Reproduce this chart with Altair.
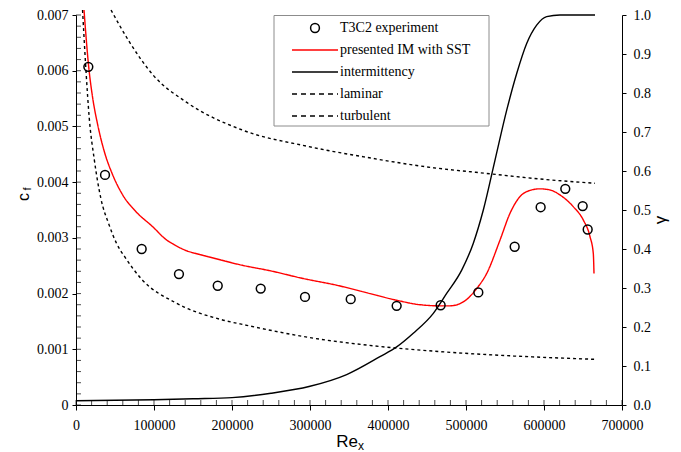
import altair as alt
import pandas as pd

SERIF = "Liberation Serif"
SANS = "Liberation Sans"

# ---------------- data ----------------
series_names = ["T3C2 experiment", "presented IM with SST", "intermittency", "laminar", "turbulent"]
series_colors = ["black", "red", "black", "black", "black"]
series_dashes = [[1, 0], [1, 0], [1, 0], [3, 3], [3, 3]]

exp_re = [15800, 37200, 84200, 132000, 181700, 236800, 293600, 352200, 411100,
          467500, 515800, 562400, 595700, 627300, 649600, 656000]
exp_cf = [0.00607, 0.00413, 0.00280, 0.00235, 0.00214, 0.00209, 0.00194, 0.00190, 0.00178,
          0.00179, 0.00202, 0.00284, 0.00355, 0.00388, 0.00357, 0.00315]

im_re = [10260, 16280, 21410, 27820, 36280, 47050, 59870, 76920, 98330, 115400, 126900,
         139700, 159000, 178200, 212400, 248700, 291400, 334200, 376900, 411100, 441000,
         466600, 479500, 496500, 513700, 526500, 543600, 556400, 569200, 577800, 594800,
         607700, 620500, 637500, 650400, 659000, 663200, 664100]
im_cf = [0.00709, 0.00607, 0.00551, 0.00503, 0.00455, 0.00413, 0.00377, 0.00347, 0.00320,
         0.00297, 0.00287, 0.00278, 0.00270, 0.00263, 0.00251, 0.00241, 0.00227, 0.00215,
         0.00200, 0.00188, 0.00180, 0.00178, 0.00178, 0.00185, 0.00209, 0.00236, 0.00296,
         0.00344, 0.00374, 0.00383, 0.00388, 0.00386, 0.00377, 0.00356, 0.00332, 0.00302,
         0.00272, 0.00236]

lam_re = [8400, 12800, 17000, 23500, 32000, 42000, 52000, 63000, 84000, 127000, 187000,
          219000, 304000, 390000, 475000, 561000, 665000]
lam_cf = [0.00709, 0.00600, 0.00515, 0.00440, 0.00370, 0.00325, 0.00290, 0.00265, 0.00226,
          0.00184, 0.00153, 0.00143, 0.00120, 0.00105, 0.00095, 0.00088, 0.00082]

tur_re = [44900, 68300, 99000, 141000, 212400, 297800, 379000, 441000, 530700, 600000, 665400]
tur_cf = [0.00709, 0.00652, 0.00592, 0.00544, 0.00494, 0.00464, 0.00443, 0.00429, 0.00415,
          0.00405, 0.00398]

int_re = [0, 50000, 100000, 150000, 200000, 250000, 300000, 347000, 389700, 411100, 432400,
          458100, 475200, 494500, 509400, 522200, 537200, 552200, 565000, 577800, 590600,
          603400, 620500, 665400]
int_g = [0.011, 0.012, 0.0135, 0.016, 0.019, 0.030, 0.048, 0.078, 0.124, 0.149, 0.184,
         0.235, 0.286, 0.346, 0.415, 0.500, 0.628, 0.756, 0.850, 0.927, 0.974, 0.996, 1.0, 1.0]

x_ticks = [0, 100000, 200000, 300000, 400000, 500000, 600000, 700000]
x_minor = [i * 20000 for i in range(36)]
cf_ticks = [0, 0.001, 0.002, 0.003, 0.004, 0.005, 0.006, 0.007]
cf_minor = [i * 0.0002 for i in range(36)]
g_ticks = [0, 0.1, 0.2, 0.3, 0.4, 0.5, 0.6, 0.7, 0.8, 0.9, 1.0]

# ---------------- tables ----------------
exp_df = pd.DataFrame({"Re": exp_re, "cf": exp_cf, "series": series_names[0]})
frames = []
for name, xs, ys in [(series_names[3], lam_re, lam_cf), (series_names[4], tur_re, tur_cf),
                     (series_names[1], im_re, im_cf)]:
    frames.append(pd.DataFrame({"Re": xs, "cf": ys, "series": name, "idx": range(len(xs))}))
curves_df = pd.concat(frames, ignore_index=True)
int_df = pd.DataFrame({"Re": int_re, "g": int_g, "series": series_names[2], "idx": range(len(int_re))})
leg_df = pd.DataFrame({"label": series_names})

W, H = 546, 390

color_scale = alt.Scale(domain=series_names, range=series_colors)
dash_scale = alt.Scale(domain=series_names, range=series_dashes)
x_scale = alt.Scale(domain=[0, 700000], nice=False, zero=False)
cf_scale = alt.Scale(domain=[0, 0.007], nice=False, zero=False)
g_scale = alt.Scale(domain=[0, 1], nice=False, zero=False)
leg_scale = alt.Scale(type="point", domain=series_names, range=[13, 101], padding=0)

common_axis = dict(labelFont=SERIF, labelFontSize=14, labelColor="black", domain=True,
                   domainColor="black", ticks=True, tickColor="black", domainWidth=1,
                   tickWidth=1, grid=False, title=None, labelOverlap=False, labelFlush=False)
x_axis = alt.Axis(values=x_ticks, format="d", orient="bottom", tickSize=5, labelPadding=8, **common_axis)
cf_axis = alt.Axis(values=cf_ticks, format="~g", orient="left", tickSize=4, labelPadding=4, **common_axis)
g_axis = alt.Axis(values=g_ticks, format=".1f", orient="right", tickSize=4, labelPadding=7, **common_axis)

X = alt.X("Re:Q", scale=x_scale, axis=x_axis)
Ycf = alt.Y("cf:Q", scale=cf_scale, axis=cf_axis)

lines = alt.Chart(curves_df).mark_line(strokeWidth=1.4, interpolate="monotone").encode(
    x=X, y=Ycf,
    color=alt.Color("series:N", scale=color_scale, legend=None),
    strokeDash=alt.StrokeDash("series:N", scale=dash_scale, legend=None),
    order=alt.Order("idx:Q"),
)
points = alt.Chart(exp_df).mark_point(filled=False, size=78, strokeWidth=1.5, opacity=1).encode(
    x=X, y=Ycf,
    color=alt.Color("series:N", scale=color_scale, legend=None),
)
xminor = alt.Chart(pd.DataFrame({"Re": x_minor})).mark_tick(
    orient="vertical", size=5, thickness=1, color="black").encode(
    x=X, y=alt.value(H - 2.5))
yminor = alt.Chart(pd.DataFrame({"cf": cf_minor})).mark_tick(
    orient="horizontal", size=5, thickness=1, color="black").encode(
    y=Ycf, x=alt.value(2.5))

cf_group = alt.layer(lines, points, xminor, yminor)

gamma = alt.Chart(int_df).mark_line(strokeWidth=1.4, interpolate="monotone").encode(
    x=X,
    y=alt.Y("g:Q", scale=g_scale, axis=g_axis),
    color=alt.Color("series:N", scale=color_scale, legend=None),
    order=alt.Order("idx:Q"),
)

# ---------------- legend box ----------------
LY = alt.Y("label:N", scale=leg_scale, axis=None)
box = alt.Chart(pd.DataFrame({"a": [0]})).mark_rect(
    fill="white", stroke="#8c8c8c", strokeWidth=1).encode(
    x=alt.value(198), x2=alt.value(413), y=alt.value(0.5), y2=alt.value(111))
leg_solid = alt.Chart(leg_df).transform_filter(
    alt.FieldOneOfPredicate(field="label", oneOf=series_names[1:3])).mark_rule(strokeWidth=1.4).encode(
    x=alt.value(216), x2=alt.value(262), y=LY,
    color=alt.Color("label:N", scale=color_scale, legend=None))
leg_dash = alt.Chart(leg_df).transform_filter(
    alt.FieldOneOfPredicate(field="label", oneOf=series_names[3:5])).mark_rule(
    strokeWidth=1.4, strokeDash=[5, 4], color="black").encode(
    x=alt.value(216), x2=alt.value(262), y=LY)
leg_pt = alt.Chart(leg_df).transform_filter(
    alt.FieldEqualPredicate(field="label", equal=series_names[0])).mark_point(
    filled=False, size=78, strokeWidth=1.5, color="black", opacity=1).encode(
    x=alt.value(239), y=LY)
leg_txt = alt.Chart(leg_df).mark_text(
    align="left", baseline="middle", font=SERIF, fontSize=14, color="black").encode(
    x=alt.value(264), y=LY, text="label:N")

# ---------------- axis titles ----------------
def label(txt, x, y, size, angle=0, align="center", baseline="middle"):
    return alt.Chart(pd.DataFrame({"t": [txt]})).mark_text(
        font=SANS, fontSize=size, color="black", angle=angle, align=align, baseline=baseline).encode(
        x=alt.value(x), y=alt.value(y), text="t:N")

titles = [
    label("c", -52.5, 182, 16, angle=270),
    label("f", -48, 174, 11, angle=270),
    label("γ", 585, 205, 17, angle=270),
    label("Re", 271, 432, 17, baseline="alphabetic"),
    label("x", 282, 435, 12, align="left", baseline="alphabetic"),
]

legend_group = alt.layer(box, leg_solid, leg_dash, leg_pt, leg_txt, *titles)

chart = alt.layer(cf_group, gamma, legend_group).resolve_scale(y="independent").properties(
    width=W, height=H,
    autosize=alt.AutoSizeParams(type="none"),
    padding={"left": 76, "top": 15, "right": 59, "bottom": 47},
    background="white",
).configure_view(stroke=None)

chart.save("out.html", embed_options={"renderer": "svg", "actions": False})
